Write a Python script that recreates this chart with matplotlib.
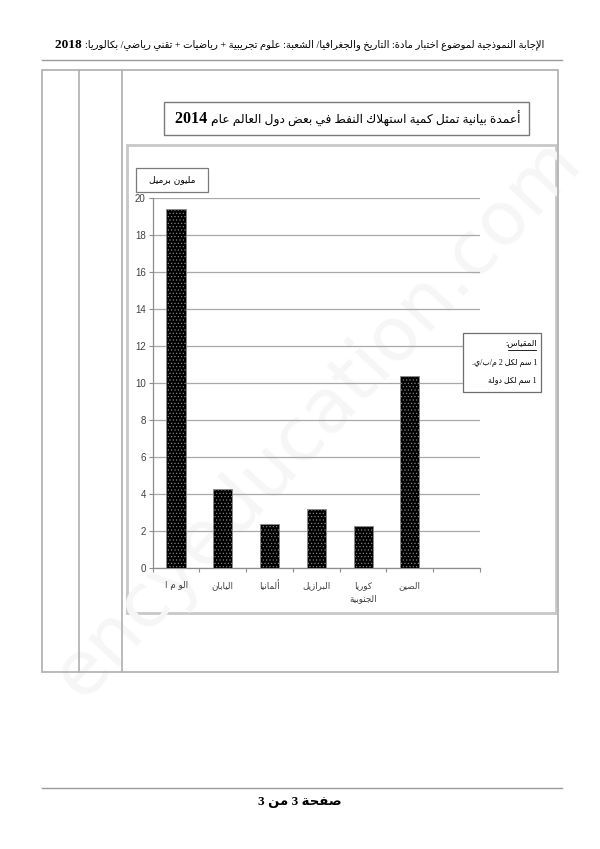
import re
import numpy as np
import matplotlib
matplotlib.use('Agg')
import matplotlib.pyplot as plt
from matplotlib.patches import Rectangle
from matplotlib.lines import Line2D

# data (million barrels / day, 2014)
countries = ['الو م ا', 'اليابان', 'ألمانيا', 'البرازيل', 'كوريا\nالجنوبية', 'الصين']
consumption = [19.4, 4.3, 2.4, 3.2, 2.3, 10.4]
y_ticks = list(range(0, 21, 2))

header = 'الإجابة النموذجية لموضوع اختبار مادة: التاريخ والجغرافيا/ الشعبة: علوم تجريبية + رياضيات + تقني رياضي/ بكالوريا:'
header_year = '2018'
title = 'أعمدة بيانية تمثل كمية استهلاك النفط في بعض دول العالم عام'
title_year = '2014'
unit_label = 'مليون برميل'
scale_title = 'المقياس:'
scale_lines = ['1 سم لكل 2 م/ب/ي.', '1 سم لكل دولة']
footer = 'صفحة 3 من 3'
watermark = 'encyeducation.com'

# --- tiny arabic shaper (matplotlib has no bidi / joining) ---
FOUR = {'ئ': 0xFE89, 'ب': 0xFE8F, 'ت': 0xFE95, 'ث': 0xFE99, 'ج': 0xFE9D, 'ح': 0xFEA1,
        'خ': 0xFEA5, 'س': 0xFEB1, 'ش': 0xFEB5, 'ص': 0xFEB9, 'ض': 0xFEBD, 'ط': 0xFEC1,
        'ظ': 0xFEC5, 'ع': 0xFEC9, 'غ': 0xFECD, 'ف': 0xFED1, 'ق': 0xFED5, 'ك': 0xFED9,
        'ل': 0xFEDD, 'م': 0xFEE1, 'ن': 0xFEE5, 'ه': 0xFEE9, 'ي': 0xFEF1}
TWO = {'آ': 0xFE81, 'أ': 0xFE83, 'ؤ': 0xFE85, 'إ': 0xFE87, 'ا': 0xFE8D, 'ة': 0xFE93,
       'د': 0xFEA9, 'ذ': 0xFEAB, 'ر': 0xFEAD, 'ز': 0xFEAF, 'و': 0xFEED, 'ى': 0xFEEF}
ONE = {'ء': 0xFE80}
LAM_ALEF = {'آ': 0xFEF5, 'أ': 0xFEF7, 'إ': 0xFEF9, 'ا': 0xFEFB}


def shape(s):
    out = []
    i = 0
    n = len(s)
    while i < n:
        c = s[i]
        prev = s[i - 1] if i > 0 else ''
        nxt = s[i + 1] if i + 1 < n else ''
        p = prev in FOUR and not (i >= 2 and s[i - 2] == 'ل' and prev in LAM_ALEF)
        if c == 'ل' and nxt in LAM_ALEF:
            out.append(chr(LAM_ALEF[nxt] + (1 if p else 0)))
            i += 2
            continue
        q = nxt in FOUR or nxt in TWO
        if c in FOUR:
            b = FOUR[c]
            f = b + 3 if (p and q) else b + 1 if p else b + 2 if q else b
        elif c in TWO:
            b = TWO[c]
            f = b + 1 if p else b
        elif c in ONE:
            f = ONE[c]
        else:
            out.append(c)
            i += 1
            continue
        out.append(chr(f))
        i += 1
    return ''.join(out)


def rtl(s):
    lines = []
    for line in s.split('\n'):
        v = shape(line)[::-1]
        v = re.sub(r'[0-9A-Za-z]+', lambda m: m.group(0)[::-1], v)
        lines.append(v)
    return '\n'.join(lines)


W, H = 600, 849
fig = plt.figure(figsize=(6, 8.49), dpi=100)
fig.patch.set_facecolor('white')


def fx(x):
    return x / W


def fy(y):
    return 1 - y / H


def line(x0, y0, x1, y1, color='#b4b4b4', lw=1.3, z=2):
    fig.add_artist(Line2D([fx(x0), fx(x1)], [fy(y0), fy(y1)], transform=fig.transFigure,
                          color=color, lw=lw, zorder=z))


def box(x0, y0, x1, y1, ec='#b4b4b4', fc='none', lw=1.3, z=2):
    fig.add_artist(Rectangle((fx(x0), fy(y1)), fx(x1) - fx(x0), fy(y0) - fy(y1),
                             transform=fig.transFigure, ec=ec, fc=fc, lw=lw, zorder=z))


def row_text(xc, y, parts, z=5):
    # parts given in visual left-to-right order, laid out and centred on xc
    r = fig.canvas.get_renderer()
    objs = [fig.text(0, fy(y), t, va='center', ha='left', zorder=z, **kw) for t, kw in parts]
    widths = [o.get_window_extent(r).width for o in objs]
    x = xc - sum(widths) / 2
    for o, w in zip(objs, widths):
        o.set_x(fx(x))
        x += w


SERIF = ['Liberation Serif', 'DejaVu Sans']

# watermark
fig.text(fx(318), fy(418), watermark, rotation=47, fontsize=54, color='#f6f6f6',
         ha='center', va='center', family='DejaVu Sans', zorder=-0.5)

# page header / footer
row_text(300, 45, [(header_year + ' ', dict(family=SERIF, fontsize=9.6, weight='bold')),
                   (rtl(header), dict(family=SERIF, fontsize=7.2))])
line(42, 60, 562, 60, color='#9a9a9a', lw=1.0)
line(42, 788, 562, 788, color='#9a9a9a', lw=1.0)
fig.text(fx(300), fy(802), rtl(footer), ha='center', va='center', family=SERIF,
         fontsize=9.5, weight='bold')

# answer table frame
box(42, 70, 558, 672)
line(79, 70, 79, 672)
line(122, 70, 122, 672)

# chart area
box(127, 145, 556, 613, ec='#c8c8c8', fc='white', lw=2.0, z=-1)

# chart title box
box(164, 102, 529, 135, ec='#7a7a7a', fc='white', lw=1.0)
row_text(348, 119, [(title_year + ' ', dict(family=SERIF, fontsize=11.5, weight='bold')),
                    (rtl(title), dict(family=SERIF, fontsize=8.8))])

# unit box
box(136, 168, 208, 192, ec='#7a7a7a', fc='white', lw=0.9)
fig.text(fx(172), fy(180), rtl(unit_label), ha='center', va='center',
         family='DejaVu Sans', fontsize=6.5)

# bars
plt.rcParams['hatch.linewidth'] = 0.45
ax = fig.add_axes([fx(152.7), fy(568.3), (480 - 152.7) / W, (568.3 - 198.3) / H])
ax.set_facecolor('none')
x = np.arange(len(countries))
ax.bar(x, consumption, width=0.41, color='black', edgecolor='#8a8a8a', lw=0.6,
       hatch='.....', zorder=3)
ax.set_xlim(-0.5, 6.5)
ax.set_ylim(0, 20)
ax.set_yticks(y_ticks)
ax.set_yticklabels([str(v) for v in y_ticks], family='Liberation Sans', fontsize=7,
                   color='#404040')
ax.tick_params(axis='y', length=3, width=0.8, color='#8c8c8c', pad=2)
ax.yaxis.grid(True, color='#a8a8a8', lw=0.9)
ax.set_axisbelow(True)

ax.set_xticks(np.arange(-0.5, 7, 1))
ax.set_xticklabels([])
ax.tick_params(axis='x', which='major', length=3, width=0.8, color='#8c8c8c')
ax.set_xticks(x, minor=True)
ax.set_xticklabels([rtl(c) for c in countries], minor=True, family='DejaVu Sans',
                   fontsize=6.3, color='#404040', va='top', linespacing=1.6)
ax.tick_params(axis='x', which='minor', length=0, pad=9)

for s in ['top', 'right']:
    ax.spines[s].set_visible(False)
for s in ['left', 'bottom']:
    ax.spines[s].set_color('#8c8c8c')
    ax.spines[s].set_linewidth(0.9)

# scale box (over the plot)
box(463, 333, 541, 392, ec='#6e6e6e', fc='white', lw=0.9, z=4)
fig.text(fx(537), fy(343), rtl(scale_title), ha='right', va='center',
         family=SERIF, fontsize=6.0, zorder=5)
line(508, 350, 536, 350, color='black', lw=0.6, z=5)
fig.text(fx(537), fy(363), rtl(scale_lines[0]), ha='right', va='center',
         family=SERIF, fontsize=5.7, zorder=5)
fig.text(fx(537), fy(381), rtl(scale_lines[1]), ha='right', va='center',
         family=SERIF, fontsize=5.7, zorder=5)

fig.savefig('out.png', dpi=100, facecolor='white')
